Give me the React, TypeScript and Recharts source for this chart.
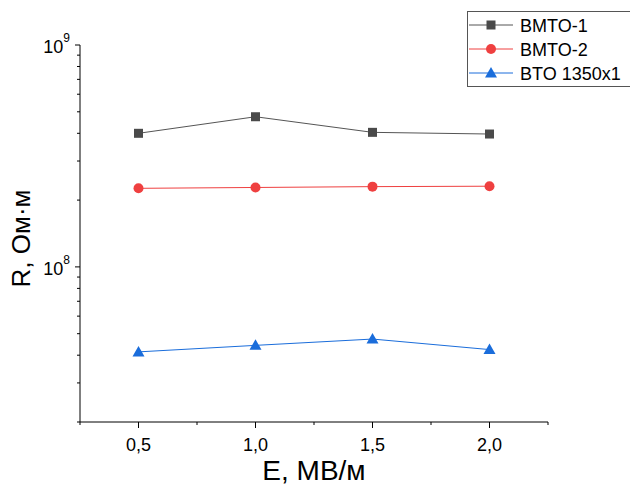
import React from 'react'
import { Label, Legend, Line, LineChart, XAxis, YAxis } from 'recharts'

const fields = [0.5, 1.0, 1.5, 2.0]
const bmto1 = [4.0e8, 4.75e8, 4.04e8, 3.97e8]
const bmto2 = [2.26e8, 2.28e8, 2.3e8, 2.31e8]
const bto = [4.14e7, 4.43e7, 4.73e7, 4.24e7]

const xTicks = [0.25, 0.5, 0.75, 1.0, 1.25, 1.5, 1.75, 2.0, 2.25]
const yTicks = [
    2e7, 3e7, 4e7, 5e7, 6e7, 7e7, 8e7, 9e7,
    1e8, 2e8, 3e8, 4e8, 5e8, 6e8, 7e8, 8e8, 9e8, 1e9,
]

const FONT = '"Liberation Sans", Arial, sans-serif'

const series = [
    { key: 'bmto1', name: 'BMTO-1', color: '#4a4a4a', line: '#555555', shape: 'square' },
    { key: 'bmto2', name: 'BMTO-2', color: '#ef4040', line: '#ef4040', shape: 'circle' },
    { key: 'bto', name: 'BTO 1350x1', color: '#1a6ddb', line: '#1a6ddb', shape: 'triangle' },
]

const data = fields.map((e, i) => ({ e, bmto1: bmto1[i], bmto2: bmto2[i], bto: bto[i] }))

const marker = (shape: string, cx: number, cy: number, color: string, key?: string) => {
    if (shape === 'square') return <rect key={key} x={cx - 4.5} y={cy - 4.5} width={9} height={9} fill={color} />
    if (shape === 'circle') return <circle key={key} cx={cx} cy={cy} r={5} fill={color} />
    return <path key={key} d={`M${cx},${cy - 6} L${cx + 6},${cy + 4.5} L${cx - 6},${cy + 4.5} Z`} fill={color} />
}

const XTick = ({ x, y, payload }: any) => {
    const v = payload.value
    const major = Math.abs(v * 2 - Math.round(v * 2)) < 1e-6
    return (
        <g>
            <line x1={x} x2={x} y1={y} y2={y + (major ? 6 : 3)} stroke="#000" />
            {major && (
                <text x={x} y={y + 29} textAnchor="middle" fontSize={18} fontFamily={FONT} fill="#000">
                    {v.toFixed(1).replace('.', ',')}
                </text>
            )}
        </g>
    )
}

const YTick = ({ x, y, payload }: any) => {
    const lg = Math.log10(payload.value)
    const major = Math.abs(lg - Math.round(lg)) < 1e-6
    return (
        <g>
            <line x1={x - (major ? 5 : 3)} x2={x} y1={y} y2={y} stroke="#000" />
            {major && (
                <text x={x - 10} y={y + 8} textAnchor="end" fontSize={18} fontFamily={FONT} fill="#000">
                    <tspan>10</tspan>
                    <tspan dy={-11} fontSize={12}>{Math.round(lg)}</tspan>
                </text>
            )}
        </g>
    )
}

const LegendBox = ({ payload }: any) => (
    <svg width={180} height={78} style={{ display: 'block' }}>
        <rect x={0.5} y={0.5} width={178} height={75} fill="#fff" stroke="#555" />
        {(payload || []).map((entry: any, i: number) => {
            const s = series.find((d) => d.key === entry.dataKey) || series[i]
            const cy = 14 + i * 24
            return (
                <g key={s.key}>
                    <line x1={2} x2={46} y1={cy} y2={cy} stroke={s.line} />
                    {marker(s.shape, 24, cy, s.color)}
                    <text x={53} y={cy + 6.5} fontSize={18} fontFamily={FONT} fill="#000">
                        {entry.value}
                    </text>
                </g>
            )
        })}
    </svg>
)

const YTitle = ({ viewBox }: any) => {
    const cx = 21
    const cy = viewBox.y + viewBox.height / 2 + 5
    return (
        <text
            x={cx}
            y={cy}
            transform={`rotate(-90 ${cx} ${cy})`}
            textAnchor="middle"
            dominantBaseline="central"
            fontSize={26}
            fontFamily={FONT}
            fill="#000"
        >
            R, Ом·м
        </text>
    )
}

export default function App() {
    return (
        <div style={{ position: 'absolute', left: 0, top: 0, width: 630, height: 485, overflow: 'hidden', background: '#fff' }}>
            <LineChart width={630} height={485} data={data} margin={{ top: 45, right: 82, bottom: 0, left: 0 }}>
                <XAxis
                    dataKey="e"
                    type="number"
                    domain={[0.25, 2.25]}
                    ticks={xTicks}
                    interval={0}
                    height={63}
                    tickSize={0}
                    tickMargin={0}
                    tick={<XTick />}
                    stroke="#000"
                    allowDataOverflow
                >
                    <Label value="E, МВ/м" position="insideBottom" offset={5} fontSize={28} fontFamily={FONT} fill="#000" />
                </XAxis>
                <YAxis
                    type="number"
                    scale="log"
                    domain={[2e7, 1e9]}
                    ticks={yTicks}
                    interval={0}
                    width={80}
                    tickSize={0}
                    tickMargin={0}
                    tick={<YTick />}
                    stroke="#000"
                    allowDataOverflow
                >
                    <Label content={<YTitle />} />
                </YAxis>
                <Legend
                    layout="vertical"
                    verticalAlign="middle"
                    align="center"
                    content={<LegendBox />}
                    wrapperStyle={{ position: 'absolute', left: 467, top: 11, width: 180 }}
                />
                {series.map((s) => (
                    <Line
                        key={s.key}
                        dataKey={s.key}
                        name={s.name}
                        stroke={s.line}
                        strokeWidth={1}
                        isAnimationActive={false}
                        dot={(p: any) => marker(s.shape, p.cx, p.cy, s.color, `${s.key}-${p.index}`)}
                        activeDot={false}
                    />
                ))}
            </LineChart>
        </div>
    )
}
